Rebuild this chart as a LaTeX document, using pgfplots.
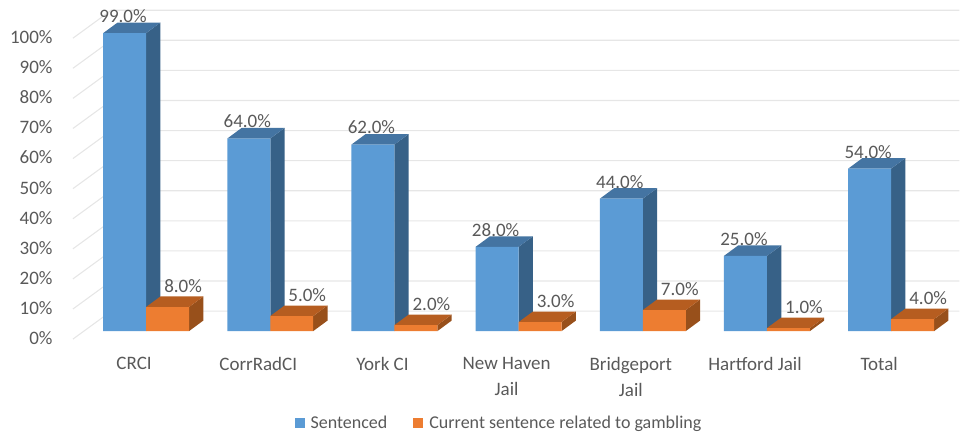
\documentclass[border=0pt]{standalone}
\usepackage{fontspec}
\setmainfont{Carlito}
\usepackage{pgfplots}
\pgfplotsset{compat=1.18}
\definecolor{blueF}{HTML}{5B9BD5}
\definecolor{blueT}{HTML}{4474A2}
\definecolor{blueS}{HTML}{376187}
\definecolor{orangeF}{HTML}{ED7D31}
\definecolor{orangeT}{HTML}{B65D20}
\definecolor{orangeS}{HTML}{98501B}
\definecolor{txt}{HTML}{595959}
\definecolor{gridc}{HTML}{E6E6E6}
% one face of a 3D bar, drawn in data coordinates
\newcommand{\face}[2]{\addplot[fill=#1, draw=none, forget plot] coordinates {#2} --cycle;}
% gridline: run down the side wall, then along the back wall
\newcommand{\wall}[2]{\addplot[gridc, line width=1.1pt, forget plot] coordinates {(-0.589,#1) (-0.28,#2) (6.55,#2)};}
\pgfplotsset{
    barlabels/.style={
        point meta=y,
        nodes near coords={\pgfmathprintnumber[fixed, fixed zerofill, precision=1]{\pgfplotspointmeta}\%},
        every node near coord/.append style={font=\fontsize{19}{22}\selectfont, text=txt, anchor=center},
    },
    squareleg/.style={legend image code/.code={\fill[##1] (0pt,-5pt) rectangle (10pt,5pt);}},
}
\begin{document}
\begin{tikzpicture}
\begin{axis}[
    scale only axis,
    width=967pt, height=434pt,
    xmin=-1.1755, xmax=6.610,
    ymin=-34.2, ymax=110,
    axis line style={draw=none},
    major tick length=0pt,
    xtick={0,1,2,3,4,5,6},
    xticklabels={CRCI,CorrRadCI,York CI,{New Haven\\Jail},{Bridgeport\\Jail},Hartford Jail,Total},
    ytick={0,10,20,30,40,50,60,70,80,90,100},
    yticklabel={\pgfmathprintnumber{\tick}\%},
    /pgf/number format/assume math mode=true,
    yticklabel style={text=txt, font=\fontsize{19}{22}\selectfont, anchor=east, xshift=56pt, yshift=-7pt},
    xticklabel style={text=txt, font=\fontsize{19}{26}\selectfont, anchor=north, align=center, xshift=-12pt, yshift=80pt},
    legend style={at={(0.516,0.025)}, anchor=center, draw=none, fill=none,
        font=\fontsize{18}{20}\selectfont, text=txt,
        legend columns=2,
        /tikz/every odd column/.append style={column sep=4pt},
        /tikz/every even column/.append style={column sep=24pt}},
]
% walls
\wall{-2.66}{6.64}
\wall{7.34}{16.64}
\wall{17.34}{26.64}
\wall{27.34}{36.64}
\wall{37.34}{46.64}
\wall{47.34}{56.64}
\wall{57.34}{66.64}
\wall{67.34}{76.64}
\wall{77.34}{86.64}
\wall{87.34}{96.64}
\wall{97.34}{106.64}
% blue bars: side and top faces
\face{blueS}{(0,0) (0.115,3.5) (0.115,102.5) (0,99)}
\face{blueT}{(-0.346,99) (-0.231,102.5) (0.115,102.5) (0,99)}
\face{blueS}{(1,0) (1.115,3.5) (1.115,67.5) (1,64)}
\face{blueT}{(0.654,64) (0.769,67.5) (1.115,67.5) (1,64)}
\face{blueS}{(2,0) (2.115,3.5) (2.115,65.5) (2,62)}
\face{blueT}{(1.654,62) (1.769,65.5) (2.115,65.5) (2,62)}
\face{blueS}{(3,0) (3.115,3.5) (3.115,31.5) (3,28)}
\face{blueT}{(2.654,28) (2.769,31.5) (3.115,31.5) (3,28)}
\face{blueS}{(4,0) (4.115,3.5) (4.115,47.5) (4,44)}
\face{blueT}{(3.654,44) (3.769,47.5) (4.115,47.5) (4,44)}
\face{blueS}{(5,0) (5.115,3.5) (5.115,28.5) (5,25)}
\face{blueT}{(4.654,25) (4.769,28.5) (5.115,28.5) (5,25)}
\face{blueS}{(6,0) (6.115,3.5) (6.115,57.5) (6,54)}
\face{blueT}{(5.654,54) (5.769,57.5) (6.115,57.5) (6,54)}
% blue fronts
\addplot[ybar, bar width=43pt, bar shift=-21.5pt, fill=blueF, draw=none, squareleg, barlabels,
    every node near coord/.append style={xshift=-23pt, yshift=17pt}] coordinates {
    (0,99) (1,64) (2,62) (3,28) (4,44) (5,25) (6,54)
};
\addlegendentry{Sentenced}
% orange bars: side and top faces
\face{orangeS}{(0.346,0) (0.461,3.5) (0.461,11.5) (0.346,8)}
\face{orangeT}{(0,8) (0.115,11.5) (0.461,11.5) (0.346,8)}
\face{orangeS}{(1.346,0) (1.461,3.5) (1.461,8.5) (1.346,5)}
\face{orangeT}{(1,5) (1.115,8.5) (1.461,8.5) (1.346,5)}
\face{orangeS}{(2.346,0) (2.461,3.5) (2.461,5.5) (2.346,2)}
\face{orangeT}{(2,2) (2.115,5.5) (2.461,5.5) (2.346,2)}
\face{orangeS}{(3.346,0) (3.461,3.5) (3.461,6.5) (3.346,3)}
\face{orangeT}{(3,3) (3.115,6.5) (3.461,6.5) (3.346,3)}
\face{orangeS}{(4.346,0) (4.461,3.5) (4.461,10.5) (4.346,7)}
\face{orangeT}{(4,7) (4.115,10.5) (4.461,10.5) (4.346,7)}
\face{orangeS}{(5.346,0) (5.461,3.5) (5.461,4.5) (5.346,1)}
\face{orangeT}{(5,1) (5.115,4.5) (5.461,4.5) (5.346,1)}
\face{orangeS}{(6.346,0) (6.461,3.5) (6.461,7.5) (6.346,4)}
\face{orangeT}{(6,4) (6.115,7.5) (6.461,7.5) (6.346,4)}
% orange fronts
\addplot[ybar, bar width=43pt, bar shift=21.5pt, fill=orangeF, draw=none, squareleg, barlabels,
    every node near coord/.append style={xshift=37pt, yshift=21pt}] coordinates {
    (0,8) (1,5) (2,2) (3,3) (4,7) (5,1) (6,4)
};
\addlegendentry{Current sentence related to gambling}
\end{axis}
\end{tikzpicture}
\end{document}
